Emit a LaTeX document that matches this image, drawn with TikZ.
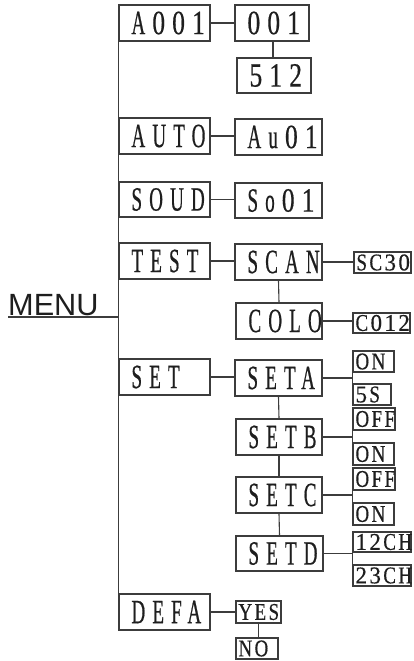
\documentclass[tikz,border=0pt]{standalone}
\usepackage{fontspec}
\setmainfont{Liberation Serif}
\newfontfamily\bigfnt[FakeStretch=0.56,LetterSpace=21,FakeBold=0.5]{Liberation Serif}
\newfontfamily\bigdig[FakeStretch=0.75,LetterSpace=21,FakeBold=0.5]{Liberation Serif}
\newfontfamily\smfnt[FakeStretch=0.79,LetterSpace=10,FakeBold=0.45]{Liberation Serif}
\newfontfamily\smdig[FakeStretch=0.96,LetterSpace=10,FakeBold=0.45]{Liberation Serif}
\newfontfamily\menufnt{Liberation Sans}
\newcommand\BD[1]{{\bigdig #1}}
\newcommand\BDk[1]{\kern7.1pt{\bigdig #1}}
\newcommand\SD[1]{{\smdig #1}}
\newcommand\SDk[1]{\kern2.4pt{\smdig #1}}
\newcommand\SDa[1]{{\smdig #1}\kern2.4pt}
\newcommand\TB[2]{\makebox[#1][l]{#2}}
\definecolor{ln}{HTML}{3C3C3C}
\definecolor{tx}{HTML}{1E1E1E}
\tikzset{
  bigbox/.style={draw=ln, line width=1.1pt, inner xsep=12.5pt, inner ysep=0pt, text=tx,
    font=\fontsize{34pt}{34pt}\bigfnt, minimum height=36pt},
  smbox/.style={draw=ln, line width=1.1pt, inner xsep=2.5pt, inner ysep=0pt, text=tx,
    font=\fontsize{24pt}{24pt}\smfnt, minimum height=21pt},
  conn/.style={draw=ln, line width=1.1pt}
}
\begin{document}
\begin{tikzpicture}[x=1pt,y=-1pt]
\useasboundingbox (0,0) rectangle (414,661);
% level 1
\node[bigbox, minimum width=91pt] (A001) at (164.5,23) {\TB{66pt}{A\BDk{001}}};
\node[bigbox, minimum width=91pt] (AUTO) at (164.5,136) {\TB{66pt}{AUTO}};
\node[bigbox, minimum width=91pt, minimum height=35pt] (SOUD) at (164.5,199.5) {\TB{66pt}{SOUD}};
\node[bigbox, minimum width=91pt] (TEST) at (164.5,261) {\TB{66pt}{TEST}};
\node[bigbox, minimum width=91pt] (SET) at (164.5,377) {\TB{66pt}{SET}};
\node[bigbox, minimum width=91pt] (DEFA) at (164.5,612) {\TB{66pt}{DEFA}};
% level 2
\node[bigbox, minimum width=74pt] (v001) at (272,23) {\TB{49pt}{\BD{001}}};
\node[bigbox, minimum width=74pt, minimum height=35pt] (v512) at (274,75.5) {\TB{49pt}{\BD{512}}};
\node[bigbox, minimum width=87pt] (Au01) at (278.5,137) {\TB{62pt}{Au\BDk{01}}};
\node[bigbox, minimum width=87pt, minimum height=35pt] (So01) at (278.5,200.5) {\TB{62pt}{So\BDk{01}}};
\node[bigbox, minimum width=87pt] (SCAN) at (278.5,262) {\TB{62pt}{SCAN}};
\node[bigbox, minimum width=86pt] (COLO) at (279,321) {\TB{61pt}{COLO}};
\node[bigbox, minimum width=87pt] (SETA) at (278.5,378) {\TB{62pt}{SETA}};
\node[bigbox, minimum width=86pt] (SETB) at (279,437) {\TB{61pt}{SETB}};
\node[bigbox, minimum width=86pt] (SETC) at (279,495) {\TB{61pt}{SETC}};
\node[bigbox, minimum width=87pt, minimum height=35pt] (SETD) at (279.5,553.5) {\TB{62pt}{SETD}};
% level 3
\node[smbox, minimum width=57pt] (SC30) at (382.5,262.5) {\TB{52pt}{SC\SDk{30}}};
\node[smbox, minimum width=57pt, minimum height=20pt] (C012) at (381.5,323) {\TB{52pt}{C\SDk{012}}};
\node[smbox, minimum width=41pt] (ON1) at (373.5,361.5) {\TB{36pt}{ON}};
\node[smbox, minimum width=38pt] (S5) at (372,394.5) {\TB{33pt}{\SDa{5}S}};
\node[smbox, minimum width=42pt, minimum height=22pt] (OFF1) at (374,419) {\TB{37pt}{OFF}};
\node[smbox, minimum width=41pt, minimum height=22pt] (ON2) at (373.5,454) {\TB{36pt}{ON}};
\node[smbox, minimum width=42pt, minimum height=22pt] (OFF2) at (374,479) {\TB{37pt}{OFF}};
\node[smbox, minimum width=41pt, minimum height=22pt] (ON3) at (373.5,514) {\TB{36pt}{ON}};
\node[smbox, minimum width=58pt, minimum height=20pt] (CH12) at (382,542) {\TB{53pt}{\SDa{12}CH}};
\node[smbox, minimum width=58pt] (CH23) at (382,575.5) {\TB{53pt}{\SDa{23}CH}};
\node[smbox, minimum width=45pt, minimum height=22pt] (YES) at (258.5,612) {\TB{40pt}{YES}};
\node[smbox, minimum width=42pt, minimum height=21pt] (NO) at (257,648.5) {\TB{37pt}{NO}};
% MENU
\node[anchor=base west, inner sep=0pt, text=tx, font=\fontsize{30.7pt}{31pt}\menufnt] (MENU) at (8,315.5) {MENU};
\coordinate (mline) at (8,317);
% connectors
\draw[conn] (mline) -- (mline -| A001.west);
\draw[conn] (A001.north west) -- (DEFA.north west);
\draw[conn] (A001.east) -- (A001.east -| v001.west);
\draw[conn] (v001.south -| 273,0) -- (v512.north -| 273,0);
\draw[conn] (AUTO.east) -- (AUTO.east -| Au01.west);
\draw[conn] (SOUD.east) -- (SOUD.east -| So01.west);
\draw[conn] (TEST.east) -- (TEST.east -| SCAN.west);
\draw[conn] (SCAN.east) -- (SCAN.east -| SC30.west);
\draw[conn] (SCAN.south) -- (COLO.north);
\draw[conn] (COLO.east) -- (COLO.east -| C012.west);
\draw[conn] (SET.east) -- (SET.east -| SETA.west);
\draw[conn] (SETA.south) -- (SETB.north);
\draw[conn] (SETB.south) -- (SETC.north);
\draw[conn] (SETC.south) -- (SETD.north);
\draw[conn] (SETA.east) -- (SETA.east -| ON1.west);
\draw[conn] (ON1.west) -- (S5.west);
\draw[conn] (SETB.east) -- (SETB.east -| OFF1.west);
\draw[conn] (OFF1.west) -- (ON2.west);
\draw[conn] (SETC.east) -- (SETC.east -| OFF2.west);
\draw[conn] (OFF2.west) -- (ON3.west);
\draw[conn] (SETD.east) -- (SETD.east -| CH12.west);
\draw[conn] (CH12.west) -- (CH23.west);
\draw[conn] (DEFA.east) -- (DEFA.east -| YES.west);
\draw[conn] (YES.south) -- (NO.north -| YES.south);
\end{tikzpicture}
\end{document}
